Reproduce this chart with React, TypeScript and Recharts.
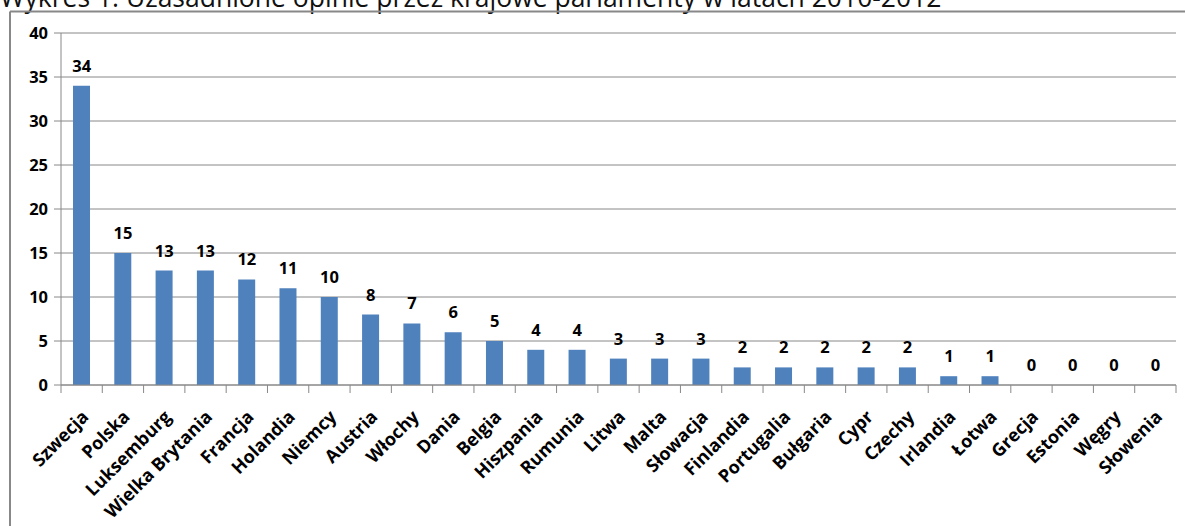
import { ComposedChart, Bar, Line, XAxis, YAxis, CartesianGrid, LabelList } from "recharts"

const countries = [
  "Szwecja", "Polska", "Luksemburg", "Wielka Brytania", "Francja", "Holandia",
  "Niemcy", "Austria", "Włochy", "Dania", "Belgia", "Hiszpania", "Rumunia",
  "Litwa", "Malta", "Słowacja", "Finlandia", "Portugalia", "Bułgaria", "Cypr",
  "Czechy", "Irlandia", "Łotwa", "Grecja", "Estonia", "Węgry", "Słowenia",
]
const opinions = [34, 15, 13, 13, 12, 11, 10, 8, 7, 6, 5, 4, 4, 3, 3, 3, 2, 2, 2, 2, 2, 1, 1, 0, 0, 0, 0]
const yTicks = [0, 5, 10, 15, 20, 25, 30, 35, 40]
const title = "Wykres 1. Uzasadnione opinie przez krajowe parlamenty w latach 2010-2012"

const data = countries.map((name, i) => ({ name, value: opinions[i] }))

const WIDTH = 1185
const HEIGHT = 526
const MARGIN = { top: 33, right: 9, left: 10, bottom: 21 }
const Y_AXIS_WIDTH = 51
const BAND = (WIDTH - MARGIN.left - MARGIN.right - Y_AXIS_WIDTH) / countries.length

const FONT = "'Open Sans', sans-serif"
const GRID = "#888888"

// Excel-style: tick marks sit between categories, label rotated under the bar
function CategoryTick(props: any) {
  const { x, y, payload, index } = props
  const left = x - BAND / 2
  const isLast = index === countries.length - 1
  return (
    <g>
      <line x1={left} x2={left} y1={y} y2={y + 8} stroke={GRID} />
      {isLast ? <line x1={left + BAND} x2={left + BAND} y1={y} y2={y + 8} stroke={GRID} /> : null}
      <text
        transform={`translate(${x + 8},${y + 33}) rotate(-45)`}
        textAnchor="end"
        fontFamily={FONT}
        fontWeight={700}
        fontSize={18}
        fill="#000"
      >
        {payload.value}
      </text>
    </g>
  )
}

// labels ride on an invisible line so the zero values get printed too
function ValueLabel(props: any) {
  const { x, y, value } = props
  return (
    <text
      x={x}
      y={y - 14}
      textAnchor="middle"
      fontFamily={FONT}
      fontWeight={700}
      fontSize={16.5}
      fill="#000"
    >
      {value}
    </text>
  )
}

export default function App() {
  return (
    <div style={{ position: "absolute", left: 0, top: 0, width: WIDTH, height: HEIGHT, overflow: "hidden", background: "#fff" }}>
      <svg width={WIDTH} height={HEIGHT} style={{ position: "absolute", left: 0, top: 0 }}>
        <text x={0} y={7} fontFamily={FONT} fontSize={26.5} fill="#111">
          {title}
        </text>
        <line x1={10} x2={WIDTH} y1={11.5} y2={11.5} stroke={GRID} strokeWidth={2} />
        <line x1={10} x2={10} y1={11.5} y2={HEIGHT} stroke={GRID} strokeWidth={2} />
      </svg>
      <div style={{ position: "absolute", left: 0, top: 0 }}>
        <ComposedChart width={WIDTH} height={HEIGHT} data={data} margin={MARGIN}>
          <CartesianGrid vertical={false} stroke={GRID} />
          <XAxis
            dataKey="name"
            interval={0}
            height={120}
            tickLine={false}
            tickSize={0}
            tickMargin={0}
            axisLine={{ stroke: GRID }}
            tick={<CategoryTick />}
          />
          <YAxis
            width={Y_AXIS_WIDTH}
            domain={[0, 40]}
            ticks={yTicks}
            interval={0}
            tickSize={7}
            tickMargin={6}
            axisLine={{ stroke: GRID }}
            tickLine={{ stroke: GRID }}
            tick={{ fontFamily: FONT, fontWeight: 700, fontSize: 16.5, fill: "#000" }}
          />
          <Bar dataKey="value" fill="#4F81BD" barSize={17} isAnimationActive={false} />
          <Line
            dataKey="value"
            stroke="none"
            dot={false}
            activeDot={false}
            legendType="none"
            isAnimationActive={false}
          >
            <LabelList dataKey="value" content={<ValueLabel />} />
          </Line>
        </ComposedChart>
      </div>
    </div>
  )
}
